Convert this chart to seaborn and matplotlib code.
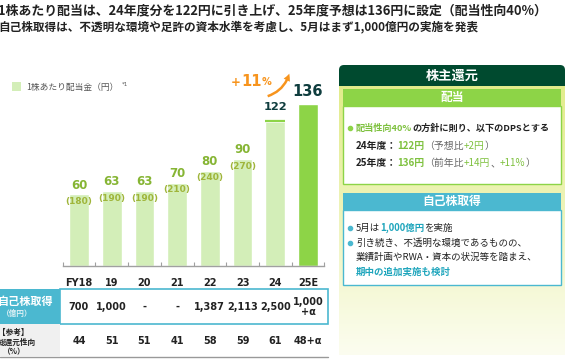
import numpy as np
import matplotlib.pyplot as plt
import matplotlib.transforms as mtransforms
from matplotlib.patches import Rectangle, FancyBboxPatch, FancyArrowPatch
import seaborn as sns

# ---- data ----
years = ["FY18", "19", "20", "21", "22", "23", "24", "25E"]
dps = [60, 63, 63, 70, 80, 90, 122, 136]
dps_pre_split = ["(180)", "(190)", "(190)", "(210)", "(240)", "(270)", "", ""]
dps_fy24_forecast = 120
buyback = ["700", "1,000", "-", "-", "1,387", "2,113", "2,500", "1,000\n+α"]
payout_total = ["44", "51", "51", "41", "58", "59", "61", "48+α"]

title_lines = [
    "1株あたり配当は、24年度分を122円に引き上げ、25年度予想は136円に設定（配当性向40%）",
    "自己株取得は、不透明な環境や足許の資本水準を考慮し、5月はまず1,000億円の実施を発表",
]

# colours
LIGHT = "#d3eeb8"
BRIGHT = "#8dd447"
DKGREEN = "#004a2f"
BLUE = "#4bb8d0"
TEAL = "#1ea5bc"
GTEXT = "#7ec13f"
OLIVE = "#86b534"
OLIVE2 = "#9fb53a"
ORANGE = "#f7941d"
DARK = "#222222"
GRAY = "#666666"

sns.set_theme(style="white")
JP = ["Noto Sans CJK JP", "DejaVu Sans"]
plt.rcParams["font.family"] = JP

W, H = 573, 361
fig = plt.figure(figsize=(W / 100, H / 100), dpi=100)
fig.patch.set_facecolor("white")

# background layer in pixel coords
bg = fig.add_axes([0, 0, 1, 1], zorder=0)
bg.set_xlim(0, W)
bg.set_ylim(H, 0)
bg.axis("off")
renderer = fig.canvas.get_renderer()


def rich(x, y, parts, size, family=JP):
    # parts: (text, colour, weight[, size])
    for p in parts:
        s, color, weight = p[:3]
        fs = p[3] if len(p) > 3 else size
        t = bg.text(x, y, s, color=color, fontsize=fs, fontweight=weight,
                    va="center", ha="left", family=family)
        x += t.get_window_extent(renderer).width


# title
bg.text(-2, 10, title_lines[0], fontsize=9.3, fontweight="bold", color=DARK, va="center")
bg.text(-2, 27, title_lines[1], fontsize=8.4, fontweight="bold", color=DARK, va="center")

# ---- bar chart ----
px_per_unit = 1.185
ax_l, ax_r, ax_t, ax_b = 62.6, 324.4, 55, 265.5
ax = fig.add_axes([ax_l / W, 1 - ax_b / H, (ax_r - ax_l) / W, (ax_b - ax_t) / H], zorder=1)
ax.set_facecolor("none")
bar_colors = [LIGHT] * 7 + [BRIGHT]
sns.barplot(x=years, y=dps, hue=years, palette=bar_colors, width=0.6,
            saturation=1, legend=False, ax=ax)
ax.set_xlim(-0.5, 7.5)
ax.set_ylim(0, (ax_b - ax_t) / px_per_unit)
for s in ["top", "right", "left"]:
    ax.spines[s].set_visible(False)
ax.spines["bottom"].set_color("#a0a0a0")
ax.spines["bottom"].set_linewidth(1)
ax.set_yticks([])
ax.set_xticks(range(len(years)))
ax.set_xticklabels(years, fontsize=7, fontweight="bold", color=DARK, family="DejaVu Sans")
ax.set_xticks(np.arange(-0.5, 8, 1), minor=True)
ax.tick_params(axis="x", which="major", length=0, pad=9)
ax.tick_params(axis="x", which="minor", direction="in", length=3, color="#a0a0a0", width=0.8, bottom=True)
ax.set_xlabel("")
ax.set_ylabel("")

# FY24 increment marker over forecast
ax.hlines(dps_fy24_forecast + 0.8, 6 - 0.3, 6 + 0.3, color="white", lw=1.2)
ax.hlines(dps[6], 6 - 0.3, 6 + 0.3, color=BRIGHT, lw=1.6)

for i, v in enumerate(dps):
    if i < 6:
        ax.annotate(str(v), (i, v), xytext=(0, 6.5), textcoords="offset points",
                    ha="center", va="center", fontsize=8.5, fontweight="bold",
                    color=OLIVE, family="DejaVu Sans")
        ax.annotate(dps_pre_split[i], (i, v), xytext=(0, -5.2), textcoords="offset points",
                    ha="center", va="center", fontsize=6.5, fontweight="bold",
                    color=OLIVE2, family="DejaVu Sans")
    elif i == 6:
        ax.annotate(str(v), (i, v), xytext=(0, 10), textcoords="offset points",
                    ha="center", va="center", fontsize=8.2, fontweight="bold",
                    color="#0f3d3e", family="DejaVu Sans")
    else:
        ax.annotate(str(v), (i, v), xytext=(0, 9.5), textcoords="offset points",
                    ha="center", va="center", fontsize=10.5, fontweight="bold",
                    color="#0f3d3e", family="DejaVu Sans")

# growth annotation
rich(231, 82, [("+", ORANGE, "bold", 8.5), ("11", ORANGE, "bold", 10.5), ("%", ORANGE, "bold", 7)],
     10, family=["DejaVu Sans"])
bg.add_patch(FancyArrowPatch((265, 97), (290, 71), connectionstyle="arc3,rad=0.3",
                             arrowstyle="simple,head_width=5,head_length=5,tail_width=1.8",
                             color=ORANGE, lw=0))

# legend
bg.add_patch(Rectangle((12, 82), 9, 9, fc=LIGHT, ec="none"))
bg.text(26, 87, "1株あたり配当金（円）", fontsize=6.3, color="#555555", va="center")
bg.text(122, 84, "*1", fontsize=4, color="#555555", va="center", family="DejaVu Sans")

# ---- table ----
bx = mtransforms.blended_transform_factory(ax.transData, bg.transData)
bg.add_patch(Rectangle((0, 289), 60, 35, fc=BLUE, ec="none"))
bg.add_patch(Rectangle((60, 289), 268, 35, fc="white", ec=BLUE, lw=1.2))
bg.add_patch(Rectangle((0, 324), 60, 32, fc="#f0f0f0", ec="none"))
bg.plot([0, 328], [357, 357], color="#999999", lw=1)
bg.text(-3, 301, "自己株取得", fontsize=8, fontweight="bold", color="white", va="center")
bg.text(2, 313, "（億円）", fontsize=5.5, fontweight="bold", color="#dff1f5", va="center")
bg.text(-2, 332, "【参考】", fontsize=5.5, fontweight="bold", color=DARK, va="center")
bg.text(-2, 342, "総還元性向", fontsize=5.5, fontweight="bold", color=DARK, va="center")
bg.text(3, 352, "（%）", fontsize=5.5, fontweight="bold", color=DARK, va="center")
for i in range(len(years)):
    bg.text(i, 307, buyback[i], transform=bx, ha="center", va="center", fontsize=7,
            fontweight="bold", color=DARK, family="DejaVu Sans", linespacing=1.0)
    bg.text(i, 341, payout_total[i], transform=bx, ha="center", va="center", fontsize=7,
            fontweight="bold", color=DARK, family="DejaVu Sans")

# ---- right panel ----
top_c = np.array([0.886, 0.925, 0.545])
bot_c = np.array([0.988, 0.992, 0.94])
t = np.linspace(0, 1, 200)[:, None, None]
grad = top_c * (1 - t) + bot_c * t
bg.imshow(grad, extent=[339, 565, 355, 86], aspect="auto", origin="upper", zorder=0)
bg.set_xlim(0, W)
bg.set_ylim(H, 0)
bg.add_patch(FancyBboxPatch((339, 65), 226, 21, boxstyle="round,pad=0,rounding_size=5",
                            fc=DKGREEN, ec="none"))
bg.add_patch(Rectangle((339, 76), 226, 10, fc=DKGREEN, ec="none"))
bg.text(452, 75.5, "株主還元", fontsize=9.5, fontweight="bold", color="white", ha="center", va="center")

bg.add_patch(Rectangle((343, 89), 218, 17, fc=BRIGHT, ec="none"))
bg.add_patch(Rectangle((343, 106), 218, 78, fc="white", ec=BRIGHT, lw=1))
bg.text(452, 97.5, "配当", fontsize=8.5, fontweight="bold", color="white", ha="center", va="center")
bg.plot([350], [128], "o", color=BRIGHT, ms=3)
rich(356, 128, [("配当性向40%", GTEXT, "bold"), ("の方針に則り、以下のDPSとする", DARK, "bold")], 6.6)
rich(356, 146, [("24年度：", DARK, "bold"), ("122円", GTEXT, "bold"), ("（予想比", GRAY, "normal"),
                ("+2円", GTEXT, "normal"), ("）", GRAY, "normal")], 7.1)
rich(356, 163, [("25年度：", DARK, "bold"), ("136円", GTEXT, "bold"), ("（前年比", GRAY, "normal"),
                ("+14円", GTEXT, "normal"), ("、", GRAY, "normal"), ("+11%", GTEXT, "normal"),
                ("）", GRAY, "normal")], 7.1)

bg.add_patch(Rectangle((343, 193), 218, 17, fc=BLUE, ec="none"))
bg.add_patch(Rectangle((343, 210), 218, 75, fc="white", ec=BLUE, lw=1))
bg.text(452, 201.5, "自己株取得", fontsize=8.5, fontweight="bold", color="white", ha="center", va="center")
bg.plot([350], [228], "o", color=BLUE, ms=3)
rich(356, 228, [("5月は", DARK, "normal"), ("1,000億円", TEAL, "bold"), ("を実施", DARK, "normal")], 6.8)
bg.plot([350], [243], "o", color=BLUE, ms=3)
rich(356, 243, [("引き続き、不透明な環境であるものの、", DARK, "normal")], 6.8)
rich(356, 257, [("業績計画やRWA・資本の状況等を踏まえ、", DARK, "normal")], 6.8)
rich(356, 272, [("期中の追加実施も検討", TEAL, "bold")], 6.8)

fig.savefig("out.png", dpi=100)
